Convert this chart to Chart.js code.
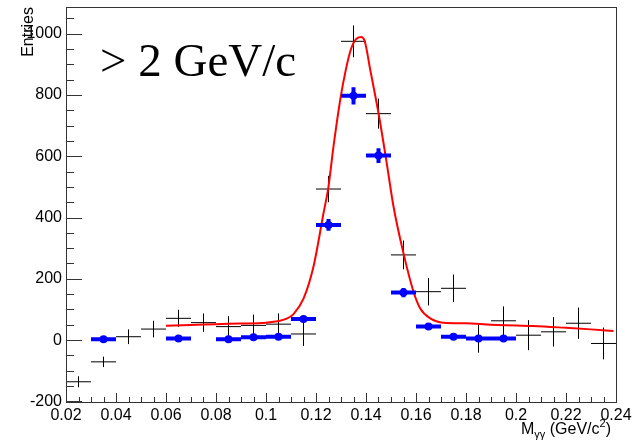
<!DOCTYPE html>
<html><head><meta charset="utf-8">
<script src="https://cdn.jsdelivr.net/npm/chart.js@4"></script>
<style>html,body{margin:0;padding:0;background:#fff}</style>
</head><body>
<canvas id="c" width="639" height="441" style="width:639px;height:441px;display:block"></canvas>
<script>
// ---- data ----
const binCenters = [0.025,0.035,0.045,0.055,0.065,0.075,0.085,0.095,0.105,0.115,0.125,0.135,0.145,0.155,0.165,0.175,0.185,0.195,0.205,0.215,0.225,0.235];
const entries    = [-136,-71,11,36,71,57,44,48,52,20,493,975,739,278,158,169,5,63,16,27,55,-11];
const entryErrs  = [18,17,24,27,28,30,34,35,35,39,43,52,49,47,45,45,46,47,49,48,51,52];

const subCenters = [0.035,0.065,0.085,0.095,0.105,0.115,0.125,0.135,0.145,0.155,0.165,0.175,0.185,0.195];
const subValues  = [3,5,3,9,11,69,376,797,602,155,44,11,5,5];
const subErrs    = [3,3,3,4,4,8,19,28,24,15,8,5,5,5];

const fitX = [0.06,0.07,0.08,0.09,0.1,0.105,0.108,0.111,0.115,0.119,0.123,0.125,0.127,0.1297,0.132,0.134,0.136,0.138,0.1395,0.1417,0.145,0.1483,0.151,0.155,0.159,0.1617,0.1657,0.171,0.18,0.19,0.2,0.207,0.22,0.23,0.239];
const fitY = [47,49,52,54,57,62,69,85,135,240,414,501,632,785,885,950,982,989,975,882,741,577,436,283,158,103,71,57,55,50,48,46,40,35,30];

const xTickStep = 0.02, yTickStep = 200;
const halfBin = 0.005;

const pts = (xs, ys) => xs.map((x,i)=>({x, y: ys[i]}));

const errorBars = {
  id: 'errorBars',
  afterDatasetDraw(chart, args) {
    const ds = chart.data.datasets[args.index];
    if (!ds.errY) return;
    const {ctx, chartArea: a} = chart;
    const xs = chart.scales.x, ys = chart.scales.y;
    ctx.save();
    ctx.beginPath(); ctx.rect(a.left, a.top, a.right - a.left, a.bottom - a.top); ctx.clip();
    ctx.strokeStyle = ds.errColor; ctx.lineWidth = ds.errWidth; ctx.lineCap = 'butt';
    ds.data.forEach((p, i) => {
      const e = ds.errY[i];
      const xc = xs.getPixelForValue(p.x), x0 = xs.getPixelForValue(p.x - halfBin), x1 = xs.getPixelForValue(p.x + halfBin);
      const y = ys.getPixelForValue(p.y), yl = ys.getPixelForValue(p.y - e), yh = ys.getPixelForValue(p.y + e);
      ctx.beginPath();
      ctx.moveTo(x0, y); ctx.lineTo(x1, y);
      ctx.moveTo(xc, yl); ctx.lineTo(xc, yh);
      ctx.stroke();
    });
    ctx.restore();
  }
};

const frameAndText = {
  id: 'frameAndText',
  afterDraw(chart) {
    const {ctx, chartArea: a} = chart;
    const xs = chart.scales.x, ys = chart.scales.y;
    ctx.save();
    ctx.strokeStyle = '#333'; ctx.lineWidth = 1;
    ctx.strokeRect(Math.round(a.left)+0.5, Math.round(a.top)+0.5, Math.round(a.right - a.left), Math.round(a.bottom - a.top));
    ctx.beginPath();
    for (let k = 0; k <= 44; k++) {
      const v = 0.02 + k * 0.005;
      const px = Math.round(xs.getPixelForValue(v)) + 0.5;
      const len = (k % 4 === 0) ? 9 : 5;
      ctx.moveTo(px, a.bottom); ctx.lineTo(px, a.bottom - len);
    }
    for (let v = -200; v <= 1050; v += 50) {
      const py = Math.round(ys.getPixelForValue(v)) + 0.5;
      const len = (v % 200 === 0) ? 16 : 8;
      ctx.moveTo(a.left, py); ctx.lineTo(a.left + len, py);
    }
    ctx.stroke();

    // y title
    ctx.fillStyle = '#000';
    ctx.save();
    ctx.translate(33, 7);
    ctx.rotate(-Math.PI/2);
    ctx.font = '16px "Liberation Sans", Arial, sans-serif';
    ctx.textAlign = 'right'; ctx.textBaseline = 'alphabetic';
    ctx.fillText('Entries', 0, 0);
    ctx.restore();

    // x title
    const big = '16px "Liberation Sans", Arial, sans-serif', small = '11px "Liberation Sans", Arial, sans-serif';
    const parts = [['M', big, 0], ['γγ', small, 4], [' (GeV/c', big, 0], ['2', small, -7], [')', big, 0]];
    let total = 0;
    parts.forEach(p => { ctx.font = p[1]; total += ctx.measureText(p[0]).width; });
    let x = 611 - total;
    ctx.textAlign = 'left'; ctx.textBaseline = 'alphabetic';
    parts.forEach(p => { ctx.font = p[1]; ctx.fillText(p[0], x, 434 + p[2]); x += ctx.measureText(p[0]).width; });

    // annotation
    ctx.font = '47px "Liberation Serif", "Times New Roman", serif';
    ctx.fillText('> 2 GeV/c', 100, 76);
    ctx.restore();
  }
};

new Chart(document.getElementById('c'), {
  type: 'scatter',
  data: {
    datasets: [
      { label: 'all', data: pts(binCenters, entries), errY: entryErrs, errColor: '#000', errWidth: 1,
        pointRadius: 0, showLine: false, order: 3 },
      { label: 'fit', data: pts(fitX, fitY), showLine: true, borderColor: '#ff0000', borderWidth: 2,
        pointRadius: 0, cubicInterpolationMode: 'monotone', order: 2 },
      { label: 'sub', data: pts(subCenters, subValues), errY: subErrs, errColor: '#0000ff', errWidth: 4,
        pointRadius: 4, pointBackgroundColor: '#0000ff', pointBorderColor: '#0000ff', pointBorderWidth: 0,
        showLine: false, order: 1 }
    ]
  },
  options: {
    responsive: false, animation: false, devicePixelRatio: 1,
    layout: { padding: { top: 7, right: 23, left: 0, bottom: 0 } },
    plugins: { legend: { display: false }, tooltip: { enabled: false } },
    scales: {
      x: {
        type: 'linear', min: 0.02, max: 0.24,
        grid: { display: false, drawTicks: false }, border: { display: false },
        ticks: { stepSize: xTickStep, padding: 4, color: '#000', maxRotation: 0, autoSkip: false,
          font: { family: '"Liberation Sans", Arial, sans-serif', size: 16 },
          callback: v => String(+v.toFixed(3)) },
        afterFit: s => { s.height = 39; s.paddingLeft = 0; s.paddingRight = 0; }
      },
      y: {
        type: 'linear', min: -202, max: 1087,
        grid: { display: false, drawTicks: false }, border: { display: false },
        ticks: { stepSize: yTickStep, includeBounds: false, padding: 4, color: '#000',
          font: { family: '"Liberation Sans", Arial, sans-serif', size: 16 },
          callback: v => String(v) },
        afterFit: s => { s.width = 66; s.paddingTop = 0; s.paddingBottom = 0; }
      }
    }
  },
  plugins: [errorBars, frameAndText]
});
</script>
</body></html>
